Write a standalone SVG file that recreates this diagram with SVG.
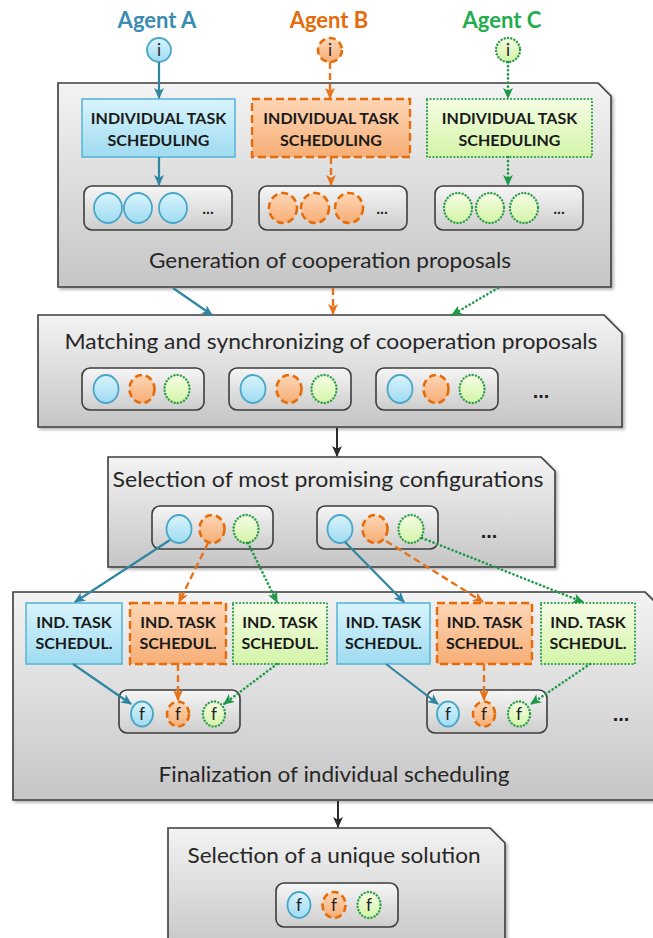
<svg xmlns="http://www.w3.org/2000/svg" width="653" height="938" viewBox="0 0 653 938">
<defs>
<linearGradient id="gPanel" x1="0" y1="0" x2="0" y2="1"><stop offset="0" stop-color="#f3f3f3"/><stop offset="1" stop-color="#c6c6c6"/></linearGradient>
<linearGradient id="gRow" x1="0" y1="0" x2="0" y2="1"><stop offset="0" stop-color="#f6f6f6"/><stop offset="1" stop-color="#cdcdcd"/></linearGradient>
<linearGradient id="gBlue" x1="0" y1="0" x2="0" y2="1"><stop offset="0" stop-color="#d8f4fc"/><stop offset="1" stop-color="#9fdbf1"/></linearGradient>
<linearGradient id="gOrange" x1="0" y1="0" x2="0" y2="1"><stop offset="0" stop-color="#fdd6b6"/><stop offset="1" stop-color="#f7ae76"/></linearGradient>
<linearGradient id="gGreen" x1="0" y1="0" x2="0" y2="1"><stop offset="0" stop-color="#f5fde4"/><stop offset="1" stop-color="#d3f4a8"/></linearGradient>
<filter id="shadow" x="-5%" y="-5%" width="112%" height="115%"><feDropShadow dx="2" dy="2" stdDeviation="1.5" flood-color="#000" flood-opacity="0.3"/></filter>
<marker id="aBlue" viewBox="0 0 10 10" refX="9" refY="5" markerWidth="11" markerHeight="11" markerUnits="userSpaceOnUse" orient="auto"><path d="M0,0.5 L10,5 L0,9.5 L2.5,5 Z" fill="#2f86a3"/></marker>
<marker id="aOrange" viewBox="0 0 10 10" refX="9" refY="5" markerWidth="11" markerHeight="11" markerUnits="userSpaceOnUse" orient="auto"><path d="M0,0.5 L10,5 L0,9.5 L2.5,5 Z" fill="#e8731a"/></marker>
<marker id="aGreen" viewBox="0 0 10 10" refX="9" refY="5" markerWidth="11" markerHeight="11" markerUnits="userSpaceOnUse" orient="auto"><path d="M0,0.5 L10,5 L0,9.5 L2.5,5 Z" fill="#1d9a47"/></marker>
<marker id="aBlack" viewBox="0 0 10 10" refX="9" refY="5" markerWidth="11" markerHeight="11" markerUnits="userSpaceOnUse" orient="auto"><path d="M0,0.5 L10,5 L0,9.5 L2.5,5 Z" fill="#2b2b2b"/></marker>
</defs>
<style>
.panel{fill:url(#gPanel);stroke:#3d3d3d;stroke-width:1.6;filter:url(#shadow)}
.row{fill:url(#gRow);stroke:#3d3d3d;stroke-width:1.6}
.bA{fill:url(#gBlue);stroke:#5ab7d8;stroke-width:1.6}
.bB{fill:url(#gOrange);stroke:#e46c0a;stroke-width:2.4;stroke-dasharray:8 4}
.bC{fill:url(#gGreen);stroke:#2e9e48;stroke-width:2.2;stroke-dasharray:0.1 3.4;stroke-linecap:round}
.cA{fill:url(#gBlue);stroke:#4aa6c9;stroke-width:1.8}
.cB{fill:url(#gOrange);stroke:#e46c0a;stroke-width:2.6;stroke-dasharray:7 4}
.cC{fill:url(#gGreen);stroke:#2e9e48;stroke-width:2.4;stroke-dasharray:0.1 3.2;stroke-linecap:round}
.cap{font-family:Lato,"Liberation Sans",sans-serif;font-size:20.5px;fill:#262626;text-anchor:middle}
.lbl{font-family:Lato,"Liberation Sans",sans-serif;font-size:16px;font-weight:bold;fill:#1a1a1a;text-anchor:middle}
.agent{font-family:Lato,"Liberation Sans",sans-serif;font-size:22px;font-weight:bold;text-anchor:middle}
.sym{font-family:Lato,"Liberation Sans",sans-serif;font-size:17px;fill:#222;text-anchor:middle}
.dots{font-family:"Liberation Sans",sans-serif;font-weight:bold;fill:#1e1e1e;text-anchor:middle}
.lA{fill:none;stroke:#2f86a3;stroke-width:2.2;marker-end:url(#aBlue)}
.lB{fill:none;stroke:#e8731a;stroke-width:2.4;stroke-dasharray:7 4;marker-end:url(#aOrange)}
.lC{fill:none;stroke:#1d9a47;stroke-width:2.6;stroke-dasharray:0.1 4;stroke-linecap:round;marker-end:url(#aGreen)}
.lK{fill:none;stroke:#2b2b2b;stroke-width:2;marker-end:url(#aBlack)}
</style>

<g id="agentA">
<text class="agent" x="157" y="28" fill="#3a8cb0">Agent A</text>
<circle class="cA" cx="159" cy="50" r="12"/><text class="sym" x="159" y="56">i</text>
</g>
<g id="agentB">
<text class="agent" x="329" y="28" fill="#e46c0a">Agent B</text>
<circle class="cB" cx="330" cy="50" r="12"/><text class="sym" x="330" y="56">i</text>
</g>
<g id="agentC">
<text class="agent" x="502" y="28" fill="#22ad4f">Agent C</text>
<circle class="cC" cx="508" cy="50" r="12"/><text class="sym" x="508" y="56">i</text>
</g>

<g id="panel1">
<path class="panel" d="M58,83 H598 L611,96 V287 H58 Z"/>
<text class="cap" x="330" y="268" textLength="362" lengthAdjust="spacingAndGlyphs">Generation of cooperation proposals</text>
</g>
<g id="taskA">
<rect class="bA" x="82" y="99" width="153" height="58"/>
<text class="lbl" x="158.5" y="124">INDIVIDUAL TASK</text><text class="lbl" x="158.5" y="146">SCHEDULING</text>
</g>
<g id="taskB">
<rect class="bB" x="252" y="99" width="158" height="58"/>
<text class="lbl" x="331" y="124">INDIVIDUAL TASK</text><text class="lbl" x="331" y="146">SCHEDULING</text>
</g>
<g id="taskC">
<rect class="bC" x="427" y="99" width="165" height="58"/>
<text class="lbl" x="509.5" y="124">INDIVIDUAL TASK</text><text class="lbl" x="509.5" y="146">SCHEDULING</text>
</g>
<g id="proposalsA">
<rect class="row" x="84" y="186" width="148" height="44" rx="8"/>
<ellipse class="cA" cx="108" cy="208" rx="14" ry="15"/><ellipse class="cA" cx="138" cy="208" rx="14" ry="15"/><ellipse class="cA" cx="173" cy="208" rx="14" ry="15"/>
<text class="dots" x="208" y="214" font-size="14">...</text>
</g>
<g id="proposalsB">
<rect class="row" x="259" y="186" width="148" height="44" rx="8"/>
<ellipse class="cB" cx="283" cy="208" rx="14" ry="15"/><ellipse class="cB" cx="315" cy="208" rx="14" ry="15"/><ellipse class="cB" cx="349" cy="208" rx="14" ry="15"/>
<text class="dots" x="382" y="214" font-size="14">...</text>
</g>
<g id="proposalsC">
<rect class="row" x="435" y="186" width="148" height="44" rx="8"/>
<ellipse class="cC" cx="458" cy="208" rx="14" ry="15"/><ellipse class="cC" cx="490" cy="208" rx="14" ry="15"/><ellipse class="cC" cx="524" cy="208" rx="14" ry="15"/>
<text class="dots" x="559" y="214" font-size="14">...</text>
</g>

<g id="panel2">
<path class="panel" d="M38,315 H604 L622,333 V427 H38 Z"/>
<text class="cap" x="331" y="349" textLength="533" lengthAdjust="spacingAndGlyphs">Matching and synchronizing of cooperation  proposals</text>
<rect class="row" x="82" y="368" width="122" height="42" rx="8"/>
<ellipse class="cA" cx="106" cy="389" rx="12.5" ry="14"/><ellipse class="cB" cx="142" cy="389" rx="12.5" ry="14"/><ellipse class="cC" cx="177" cy="389" rx="12.5" ry="14"/>
<rect class="row" x="229" y="368" width="122" height="42" rx="8"/>
<ellipse class="cA" cx="253" cy="389" rx="12.5" ry="14"/><ellipse class="cB" cx="289" cy="389" rx="12.5" ry="14"/><ellipse class="cC" cx="324" cy="389" rx="12.5" ry="14"/>
<rect class="row" x="376" y="368" width="122" height="42" rx="8"/>
<ellipse class="cA" cx="400" cy="389" rx="12.5" ry="14"/><ellipse class="cB" cx="436" cy="389" rx="12.5" ry="14"/><ellipse class="cC" cx="472" cy="389" rx="12.5" ry="14"/>
<text class="dots" x="541" y="398" font-size="20">...</text>
</g>

<g id="panel3">
<path class="panel" d="M108,457 H541 L555,471 V567 H108 Z"/>
<text class="cap" x="328" y="487" textLength="431" lengthAdjust="spacingAndGlyphs">Selection of most promising configurations</text>
<rect class="row" x="152" y="506" width="121" height="43" rx="8"/>
<ellipse class="cA" cx="179" cy="529" rx="12.5" ry="14"/><ellipse class="cB" cx="212" cy="529" rx="12.5" ry="14"/><ellipse class="cC" cx="246" cy="529" rx="12.5" ry="14"/>
<rect class="row" x="317" y="506" width="121" height="43" rx="8"/>
<ellipse class="cA" cx="340" cy="529" rx="12.5" ry="14"/><ellipse class="cB" cx="375" cy="529" rx="12.5" ry="14"/><ellipse class="cC" cx="411" cy="529" rx="12.5" ry="14"/>
<text class="dots" x="489" y="538" font-size="20">...</text>
</g>

<g id="panel4">
<path class="panel" d="M13,592 H645 L668,615 V800 H13 Z"/>
<text class="cap" x="334" y="782" textLength="351" lengthAdjust="spacingAndGlyphs">Finalization of individual scheduling</text>
<text class="dots" x="621" y="721" font-size="20">...</text>
</g>
<g id="indA1"><rect class="bA" x="26" y="603" width="96" height="61"/><text class="lbl" x="74" y="628">IND. TASK</text><text class="lbl" x="74" y="649">SCHEDUL.</text></g>
<g id="indB1"><rect class="bB" x="130" y="603" width="96" height="61"/><text class="lbl" x="178" y="628">IND. TASK</text><text class="lbl" x="178" y="649">SCHEDUL.</text></g>
<g id="indC1"><rect class="bC" x="233" y="603" width="94" height="61"/><text class="lbl" x="280" y="628">IND. TASK</text><text class="lbl" x="280" y="649">SCHEDUL.</text></g>
<g id="indA2"><rect class="bA" x="337" y="603" width="93" height="61"/><text class="lbl" x="383.5" y="628">IND. TASK</text><text class="lbl" x="383.5" y="649">SCHEDUL.</text></g>
<g id="indB2"><rect class="bB" x="437" y="603" width="95" height="61"/><text class="lbl" x="484.5" y="628">IND. TASK</text><text class="lbl" x="484.5" y="649">SCHEDUL.</text></g>
<g id="indC2"><rect class="bC" x="541" y="603" width="94" height="61"/><text class="lbl" x="588" y="628">IND. TASK</text><text class="lbl" x="588" y="649">SCHEDUL.</text></g>
<g id="final1">
<rect class="row" x="119" y="690" width="121" height="43" rx="8"/>
<ellipse class="cA" cx="142" cy="714" rx="11" ry="12.5"/><text class="sym" x="142" y="720">f</text>
<ellipse class="cB" cx="178" cy="714" rx="11" ry="12.5"/><text class="sym" x="178" y="720">f</text>
<ellipse class="cC" cx="214" cy="714" rx="11" ry="12.5"/><text class="sym" x="214" y="720">f</text>
</g>
<g id="final2">
<rect class="row" x="427" y="690" width="120" height="43" rx="8"/>
<ellipse class="cA" cx="448" cy="714" rx="11" ry="12.5"/><text class="sym" x="448" y="720">f</text>
<ellipse class="cB" cx="484" cy="714" rx="11" ry="12.5"/><text class="sym" x="484" y="720">f</text>
<ellipse class="cC" cx="519" cy="714" rx="11" ry="12.5"/><text class="sym" x="519" y="720">f</text>
</g>

<g id="panel5">
<path class="panel" d="M168,828 H490 L505,843 V950 H168 Z"/>
<text class="cap" x="334" y="863" textLength="293" lengthAdjust="spacingAndGlyphs">Selection of a unique solution</text>
<rect class="row" x="276" y="883" width="122" height="44" rx="8"/>
<ellipse class="cA" cx="299" cy="905" rx="11.5" ry="13"/><text class="sym" x="299" y="911">f</text>
<ellipse class="cB" cx="334" cy="905" rx="11.5" ry="13"/><text class="sym" x="334" y="911">f</text>
<ellipse class="cC" cx="369" cy="905" rx="11.5" ry="13"/><text class="sym" x="369" y="911">f</text>
</g>

<g id="connectors">
<path class="lA" d="M159,62 V98"/>
<path class="lB" d="M330,62 V98"/>
<path class="lC" d="M508,62 V98"/>
<path class="lA" d="M159,157 V185"/>
<path class="lB" d="M331,157 V185"/>
<path class="lC" d="M508,157 V185"/>
<path class="lA" d="M173,288 L212,315"/>
<path class="lB" d="M333,288 V314"/>
<path class="lC" d="M498,288 L452,315"/>
<path class="lK" d="M337,428 V456"/>
<path class="lA" d="M170,540 L75,602"/>
<path class="lB" d="M208,543 L179,602"/>
<path class="lC" d="M248,543 L277,602"/>
<path class="lA" d="M345,542 L404,602"/>
<path class="lB" d="M386,541 L483,602"/>
<path class="lC" d="M422,538 L583,602"/>
<path class="lA" d="M73,664 L131,704"/>
<path class="lB" d="M178,664 V700"/>
<path class="lC" d="M277,664 L224,704"/>
<path class="lA" d="M386,664 L438,704"/>
<path class="lB" d="M484,664 V700"/>
<path class="lC" d="M590,664 L531,704"/>
<path class="lK" d="M338,801 V827"/>
</g>
</svg>
